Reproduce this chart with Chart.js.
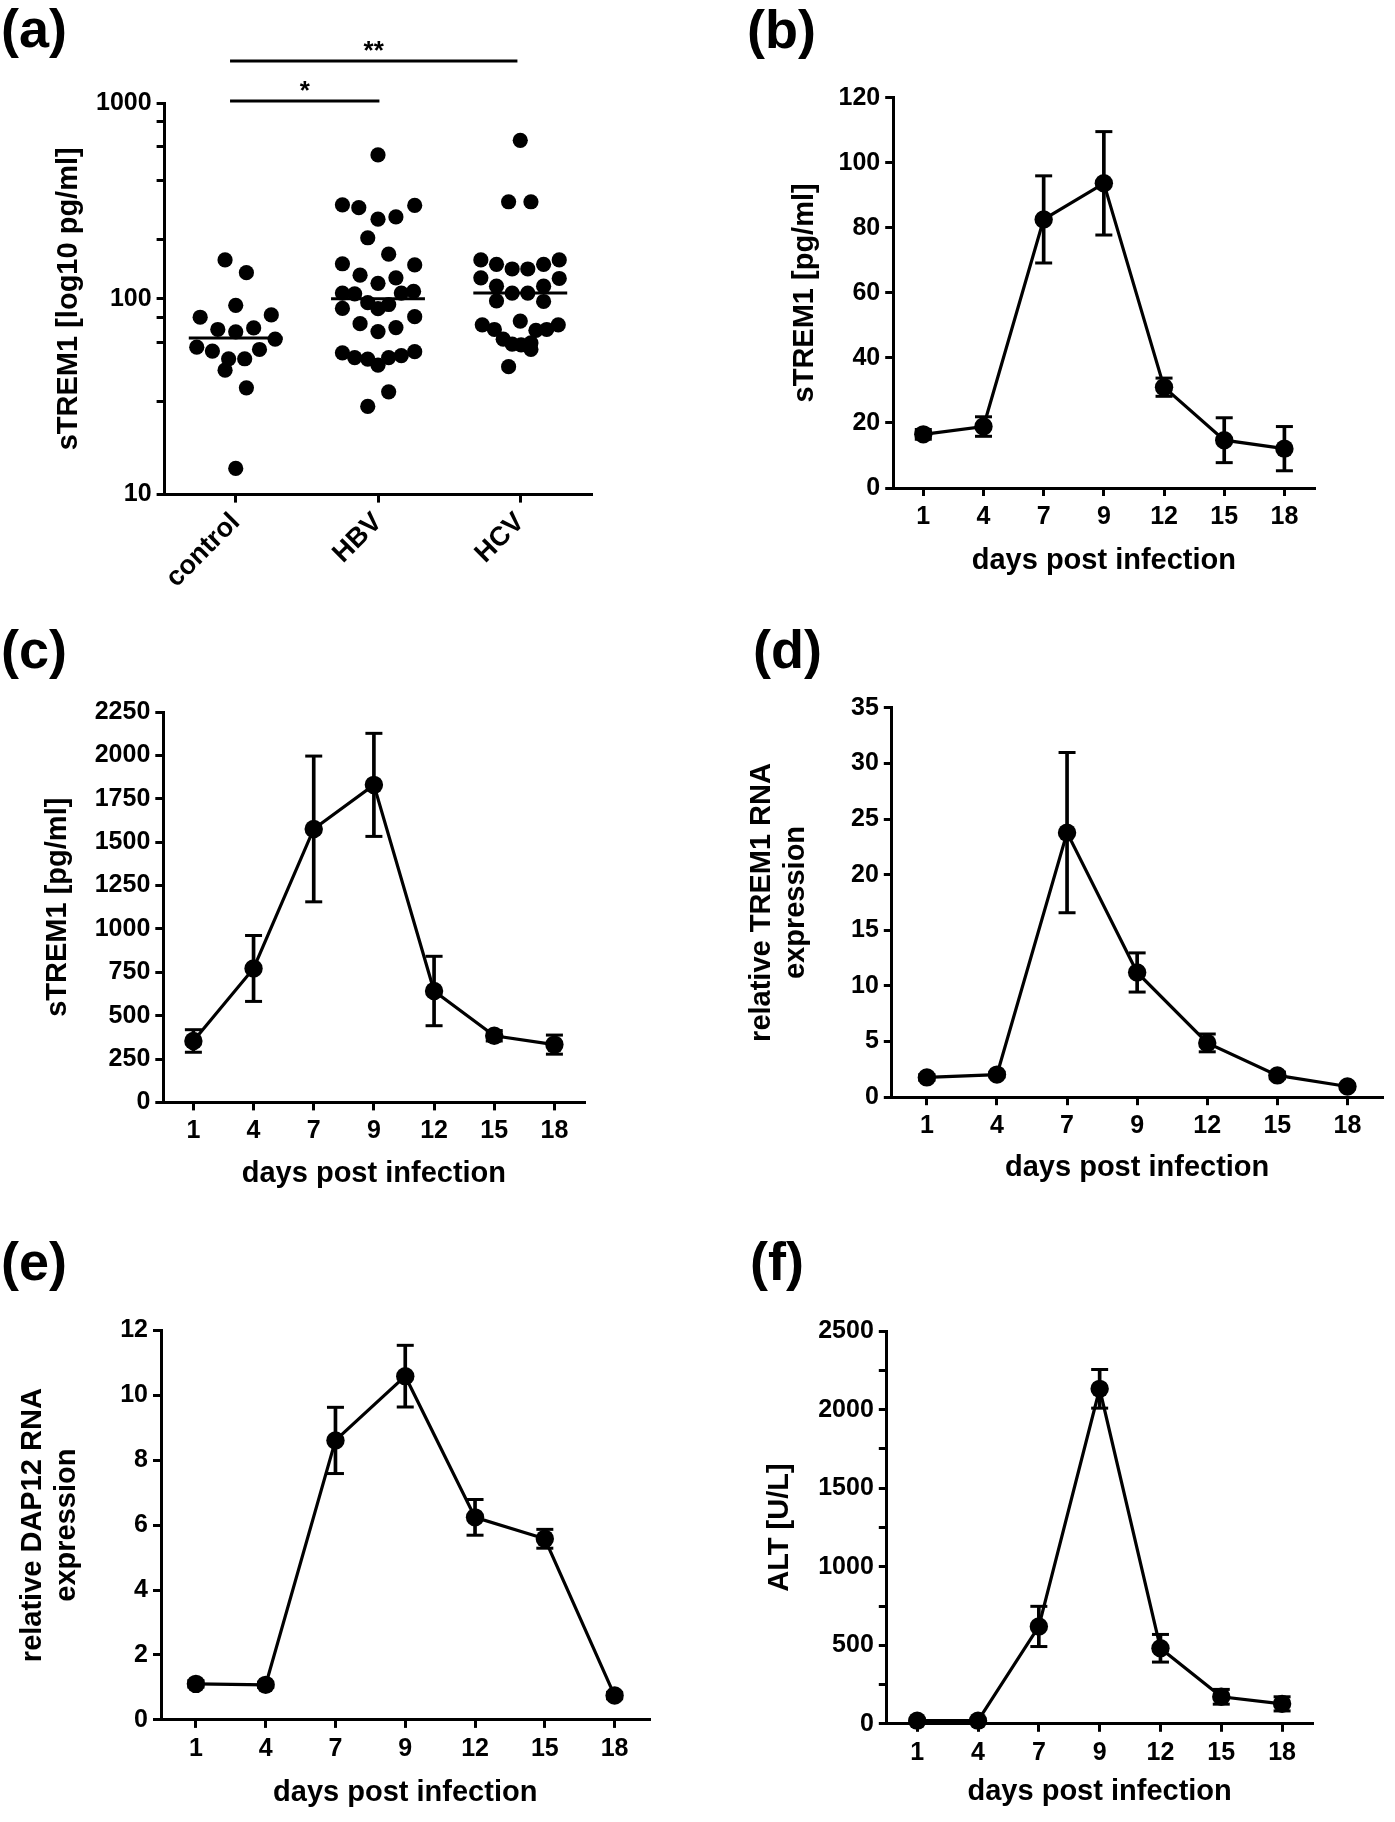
<!DOCTYPE html>
<html>
<head>
<meta charset="utf-8">
<script src="https://cdn.jsdelivr.net/npm/chart.js@4.4.0/dist/chart.umd.min.js"></script>
<style>
  html, body { margin: 0; padding: 0; background: #fff; }
  #page { position: relative; width: 1395px; height: 1822px; background: #fff; overflow: hidden; }
  #page canvas { position: absolute; }
</style>
</head>
<body>
<div id="page">
  <canvas id="panelA"></canvas>
  <canvas id="panelB"></canvas>
  <canvas id="panelC"></canvas>
  <canvas id="panelD"></canvas>
  <canvas id="panelE"></canvas>
  <canvas id="panelF"></canvas>
</div>
<script>
/* ---------- data (a): sTREM1 in patients, log scale ---------- */
var groups = ['control', 'HBV', 'HCV'];
var controlVals = [158, 136, 92.6, 80.5, 82.7, 69.7, 67.8, 71, 62.2, 56.6, 54.1, 55.1, 49.4, 49.4, 43.2, 35.1, 13.6];
var controlJitter = [-0.075, 0.075, 0, -0.25, 0.25, -0.126, 0, 0.126, 0.277, -0.274, -0.164, 0.167, -0.05, 0.063, -0.075, 0.075, 0];
var hbvVals = [543, 302, 292, 300, 255, 262, 205, 169, 151, 149, 132, 128, 120, 107, 106, 109, 107, 89.3, 95.5, 89, 93.5, 81, 74.6, 71.3, 68, 53, 50.1, 49.2, 50.1, 51.3, 53.7, 45.8, 33.5, 28.2];
var hbvJitter = [0, -0.25, -0.135, 0.258, 0, 0.126, -0.072, 0.075, -0.25, 0.258, -0.126, 0.126, 0, -0.25, -0.164, 0.25, 0.164, -0.25, -0.072, 0, 0.075, 0.258, -0.126, 0.126, 0, -0.25, -0.164, -0.072, 0.075, 0.164, 0.258, 0, 0.075, -0.072];
var hcvVals = [645, 313, 313, 158, 158, 150, 142, 142, 150, 128, 127, 116, 107, 107, 116, 97.7, 96.9, 77, 73.6, 73.6, 69.7, 69, 69.7, 62.2, 58.7, 58.2, 59.5, 55.1, 45];
var hcvJitter = [0, -0.082, 0.075, -0.277, 0.274, -0.167, -0.057, 0.053, 0.164, -0.277, 0.274, -0.167, -0.057, 0.053, 0.164, -0.167, 0.164, 0, -0.267, 0.267, -0.182, 0.11, 0.186, -0.12, -0.057, 0.006, 0.075, 0.075, -0.082];
var medians = [63, 100, 107];
var logLabels = [10, 100, 1000];
// significance brackets
var sigText = ['*', '**'];
var sigFrom = [0.96, 0.96];
var sigTo = [2.01, 2.98];
var sigLevel = [1025, 1640];

/* ---------- data (b)-(f): time courses ---------- */
var days = ['1', '4', '7', '9', '12', '15', '18'];
var serumMean = [16.5, 18.9, 82.6, 93.7, 31.0, 14.7, 12.1];
var serumErr = [1.5, 3.0, 13.4, 15.9, 2.8, 6.9, 6.8];
var supernatantMean = [354, 772, 1576, 1830, 642, 384, 333];
var supernatantErr = [65, 190, 420, 297, 200, 30, 55];
var trem1Mean = [1.78, 2.03, 23.78, 11.21, 4.88, 1.96, 0.96];
var trem1Err = [0.25, 0.2, 7.2, 1.76, 0.8, 0.3, 0.2];
var dap12Mean = [1.11, 1.08, 8.61, 10.59, 6.24, 5.58, 0.75];
var dap12Err = [0.1, 0.08, 1.02, 0.95, 0.55, 0.29, 0.1];
var altMean = [20, 20, 620, 2133, 481, 172, 127];
var altErr = [10, 10, 128, 123, 88, 47, 45];

var FONT = "'Liberation Sans', Arial, Helvetica, sans-serif";
var TITLE_SIZE = 29;
var TITLE_LH = 1.15;
Chart.defaults.font.family = FONT;
Chart.defaults.color = '#000';

// where each plot area sits on the page (cl/ct = canvas corner, padL = room left of the panel letter)
var layoutA = {cl: 1, ct: 0, padL: 0, left: 164.6, top: 103, right: 592.7, bottom: 494.6, labelY: 36.7, yTitleX: 71.6, hx: 112};
var layoutB = {cl: 740, ct: 0, padL: 7, left: 893.2, top: 97.8, right: 1319.5, bottom: 488, labelY: 37.5, yTitleX: 807.5, xTitleY: 563.5};
var layoutC = {cl: 1, ct: 612, padL: 0, left: 163.3, top: 712, right: 590, bottom: 1102.4, labelY: 658, yTitleX: 60.4, xTitleY: 1176.5};
var layoutD = {cl: 740, ct: 612, padL: 13, left: 891.8, top: 707.8, right: 1388, bottom: 1097.2, labelY: 658, yTitleX: 765, xTitleY: 1170.6};
var layoutE = {cl: 1, ct: 1226, padL: 0, left: 161, top: 1330.4, right: 655, bottom: 1719.9, labelY: 1270, yTitleX: 35.8, xTitleY: 1796};
var layoutF = {cl: 740, ct: 1226, padL: 10, left: 886.8, top: 1331.2, right: 1318, bottom: 1723.8, labelY: 1270, yTitleX: 782.3, xTitleY: 1795};

function geometry(g) {
  var padR = 6;
  var half = TITLE_SIZE * TITLE_LH / 2;
  var shift = TITLE_SIZE * 0.09;
  var x0 = g.cl + g.padL;
  var hx = g.hx !== undefined ? g.hx : g.xTitleY - g.bottom - shift + half;
  var w = Math.round(g.right - g.cl + padR);
  var h = Math.round(g.bottom - g.ct + hx + 2);
  var pt = g.labelY - 4.8 - 27 - g.ct;
  return {
    w: w, h: h, hx: hx,
    wy: g.left - x0,
    padding: {left: g.padL, top: 0, right: w - (g.right - g.cl), bottom: h - (g.bottom - g.ct) - hx},
    labelPad: {top: pt, bottom: (g.top - g.ct) - pt - 54},
    ytp: g.yTitleX - shift - half - x0
  };
}

function mount(id, g, geo) {
  var cv = document.getElementById(id);
  cv.width = geo.w;
  cv.height = geo.h;
  cv.style.left = g.cl + 'px';
  cv.style.top = g.ct + 'px';
  return cv;
}

function panelTitle(text, geo) {
  return {display: true, text: text, align: 'start', color: '#000',
          font: {size: 54, weight: 'bold', lineHeight: 1}, padding: geo.labelPad};
}

function axisStyle() {
  return {
    grid: {drawOnChartArea: false, offset: false, color: '#000', lineWidth: 3, tickLength: 8},
    border: {color: '#000', width: 3}
  };
}

function axisTitle(text, pad) {
  return {display: true, text: text, color: '#000',
          font: {size: TITLE_SIZE, weight: 'bold', lineHeight: TITLE_LH}, padding: pad};
}

function isMultiple(v, step) {
  return Math.abs(v / step - Math.round(v / step)) < 1e-6;
}

/*------------------------------*/
/*   (a) scatter, log scale     */
/*------------------------------*/
var starPlugin = {
  id: 'stars',
  afterDatasetsDraw: function (chart) {
    var ctx = chart.ctx, x = chart.scales.x, y = chart.scales.y;
    ctx.save();
    ctx.font = 'bold 26px ' + FONT;
    ctx.fillStyle = '#000';
    ctx.textAlign = 'center';
    ctx.textBaseline = 'alphabetic';
    sigText.forEach(function (t, k) {
      var px = x.getPixelForValue((sigFrom[k] + sigTo[k]) / 2);
      var py = y.getPixelForValue(sigLevel[k]);
      ctx.fillText(t, px, py - 2);
    });
    ctx.restore();
  }
};

var geoA = geometry(layoutA);
var groupVals = [controlVals, hbvVals, hcvVals];
var groupJitter = [controlJitter, hbvJitter, hcvJitter];
var datasetsA = [];
groupVals.forEach(function (vals, k) {
  datasetsA.push({
    data: vals.map(function (v, i) { return {x: k + 1 + groupJitter[k][i], y: v}; }),
    pointRadius: 7.6, pointBackgroundColor: '#000', pointBorderWidth: 0, clip: false
  });
});
medians.forEach(function (m, k) {
  datasetsA.push({
    data: [{x: k + 1 - 0.33, y: m}, {x: k + 1 + 0.33, y: m}],
    showLine: true, borderColor: '#000', borderWidth: 3, pointRadius: 0
  });
});
sigLevel.forEach(function (lv, k) {
  datasetsA.push({
    data: [{x: sigFrom[k], y: lv}, {x: sigTo[k], y: lv}],
    showLine: true, borderColor: '#000', borderWidth: 3, pointRadius: 0, clip: false
  });
});

var xA = axisStyle();
xA.type = 'linear';
xA.min = 0.5;
xA.max = 3.5;
xA.afterBuildTicks = function (s) { s.ticks = groups.map(function (_, k) { return {value: k + 1}; }); };
xA.ticks = {callback: function (v) { return groups[v - 1]; }, minRotation: 45, maxRotation: 45,
            autoSkip: false, padding: 4, color: '#000', font: {size: 27, weight: 'bold'}};
xA.afterFit = function (s) { s.height = geoA.hx; };

var yA = axisStyle();
yA.type = 'logarithmic';
yA.min = 10;
yA.max = 1000;
yA.ticks = {callback: function (v) { return logLabels.indexOf(v) >= 0 ? String(v) : ''; },
            padding: 5, color: '#000', font: {size: 25, weight: 'bold'}};
yA.title = axisTitle('sTREM1 [log10 pg/ml]', {top: geoA.ytp, bottom: 0});
yA.afterFit = function (s) { s.width = geoA.wy; };

new Chart(mount('panelA', layoutA, geoA), {
  type: 'scatter',
  data: {datasets: datasetsA},
  options: {
    responsive: false, animation: false, events: [],
    layout: {padding: geoA.padding},
    plugins: {legend: {display: false}, tooltip: {enabled: false}, title: panelTitle('(a)', geoA)},
    scales: {x: xA, y: yA}
  },
  plugins: [starPlugin]
});

/*------------------------------*/
/*   (b)-(f) time courses       */
/*------------------------------*/
function courseChart(id, g, label, yTitle, mean, err, yMax, step, labelStep) {
  var geo = geometry(g);
  var lo = mean.map(function (m, i) { return m - err[i]; });
  var hi = mean.map(function (m, i) { return m + err[i]; });

  var x = axisStyle();
  x.type = 'category';
  x.offset = true;
  x.ticks = {autoSkip: false, maxRotation: 0, padding: 6, color: '#000', font: {size: 25, weight: 'bold'}};
  x.title = axisTitle('days post infection', {top: 0, bottom: 0});
  x.afterFit = function (s) { s.height = geo.hx; };

  var y = axisStyle();
  y.min = 0;
  y.max = yMax;
  y.ticks = {stepSize: step, padding: 5, color: '#000', font: {size: 25, weight: 'bold'},
             callback: function (v) { return isMultiple(v, labelStep) ? String(v) : ''; }};
  y.title = axisTitle(yTitle, {top: geo.ytp, bottom: 0});
  y.afterFit = function (s) { s.width = geo.wy; };

  var cap = {showLine: false, pointStyle: 'line', pointRadius: 8.5, pointBorderWidth: 3,
             pointBorderColor: '#000', pointBackgroundColor: '#000', clip: false};

  return new Chart(mount(id, g, geo), {
    type: 'line',
    data: {
      labels: days,
      datasets: [
        {data: mean, borderColor: '#000', borderWidth: 3.2, tension: 0, pointRadius: 9.2,
         pointBackgroundColor: '#000', pointBorderWidth: 0, clip: false},
        {type: 'bar', data: mean.map(function (m, i) { return [lo[i], hi[i]]; }),
         backgroundColor: '#000', barThickness: 3, borderWidth: 0},
        Object.assign({data: lo}, cap),
        Object.assign({data: hi}, cap)
      ]
    },
    options: {
      responsive: false, animation: false, events: [],
      layout: {padding: geo.padding},
      plugins: {legend: {display: false}, tooltip: {enabled: false}, title: panelTitle(label, geo)},
      scales: {x: x, y: y}
    }
  });
}

courseChart('panelB', layoutB, '(b)', 'sTREM1 [pg/ml]', serumMean, serumErr, 120, 10, 20);
courseChart('panelC', layoutC, '(c)', 'sTREM1 [pg/ml]', supernatantMean, supernatantErr, 2250, 250, 250);
courseChart('panelD', layoutD, '(d)', ['relative TREM1 RNA', 'expression'], trem1Mean, trem1Err, 35, 2.5, 5);
courseChart('panelE', layoutE, '(e)', ['relative DAP12 RNA', 'expression'], dap12Mean, dap12Err, 12, 1, 2);
courseChart('panelF', layoutF, '(f)', 'ALT [U/L]', altMean, altErr, 2500, 250, 500);
</script>
</body>
</html>
